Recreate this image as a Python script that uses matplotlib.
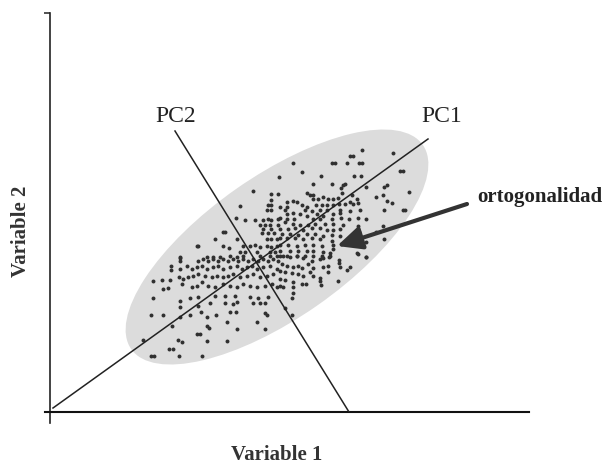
import matplotlib
matplotlib.use("Agg")
import matplotlib.pyplot as plt
from matplotlib.patches import Ellipse
import numpy as np

# datos (unidades arbitrarias, origen en el cruce de ejes)
var1 = [
    203, 221, 228, 221, 218, 221, 190, 217, 221, 186, 195, 205, 213, 218, 221, 228,
    210, 215, 220, 228, 173, 175, 213, 221, 212, 218, 224, 165, 187, 217, 221, 227,
    147, 148, 173, 179, 193, 200, 205, 210, 217, 221, 227, 190, 195, 207, 220, 225,
    130, 157, 163, 170, 180, 187, 193, 210, 220, 227,
    312, 343, 300, 303, 243, 282, 285, 297, 309, 312, 350, 353, 252, 271, 304, 311,
    229, 263, 282, 293, 295, 316, 334, 337, 257, 260, 263, 291, 292, 333, 359, 302,
    307, 326, 263, 268, 273, 278, 283, 288, 337, 342, 237, 243, 247, 252, 257, 266,
    272, 277, 283, 289, 295, 300, 303, 308, 230, 235, 237, 334, 353, 355, 255, 262,
    270, 277, 290, 300, 310, 237, 243, 250, 257, 267, 273, 283, 290, 230, 237, 244,
    263, 270, 282, 291, 299, 308, 316, 235, 243, 250, 258, 265, 275, 283, 293, 308,
    333, 230, 238, 245, 253, 262, 270, 277, 283, 290, 309, 326, 232, 240, 248, 257,
    265, 273, 282, 290, 230, 237, 245, 253, 262, 270, 282, 316, 334, 230, 238, 247,
    255, 263, 272, 283, 230, 240, 248, 257, 263, 273, 283, 280, 307, 316, 230, 237,
    247, 255, 263, 272, 279,
    130, 130, 148, 153, 158, 163, 168, 173, 178, 183, 188, 193, 198, 203, 208, 213,
    218, 223, 228, 121, 121, 130, 137, 142, 147, 152, 157, 163, 168, 173, 180, 187,
    192, 197, 202, 207, 213, 220, 227, 129, 133, 138, 143, 148, 155, 162, 167, 173,
    178, 183, 190, 197, 203, 210, 217, 223, 103, 112, 120, 132, 142, 147, 152, 158,
    165, 173, 180, 187, 193, 200, 207, 215, 222, 227, 113, 118, 103, 130, 140, 148,
    165, 175, 185, 200, 208, 218, 130, 148, 160, 175, 183, 187, 203, 210, 215, 101,
    113, 130, 140, 151, 157, 166, 180, 186, 215, 217, 122, 157, 159, 177, 187, 207,
    215, 147, 150, 93, 128, 132, 157, 177, 119, 123, 101, 104, 129, 152,
    233, 240, 247, 253, 262, 270, 273, 280, 289, 289, 308, 316, 232, 237, 243, 248,
    252, 258, 263, 273, 278, 290, 297, 300, 230, 235, 242, 248, 253, 260, 263, 270,
    278, 230, 235, 243, 252, 256, 270, 271, 288, 230, 233, 243, 243, 242, 235, 242,
]
var2 = [
    221, 218, 218, 212, 207, 207, 206, 202, 202, 194, 192, 192, 192, 193, 192, 193,
    187, 187, 187, 187, 180, 180, 183, 183, 179, 179, 179, 173, 173, 173, 173, 173,
    166, 166, 166, 164, 166, 166, 167, 165, 166, 165, 166, 160, 160, 160, 160, 160,
    155, 155, 155, 155, 156, 155, 156, 156, 156, 156,
    262, 259, 256, 256, 249, 249, 249, 249, 249, 249, 241, 241, 240, 236, 236, 236,
    235, 228, 228, 227, 228, 225, 225, 227, 219, 217, 217, 224, 219, 217, 220, 217,
    213, 215, 213, 213, 215, 213, 213, 214, 211, 209, 210, 211, 210, 207, 205, 207,
    207, 207, 207, 208, 208, 210, 208, 209, 205, 202, 205, 202, 202, 202, 202, 201,
    202, 202, 202, 201, 202, 198, 199, 198, 196, 198, 196, 198, 199, 194, 193, 193,
    193, 193, 193, 194, 193, 194, 193, 190, 188, 187, 187, 188, 188, 188, 187, 186,
    186, 183, 183, 184, 182, 184, 184, 182, 182, 183, 180, 180, 178, 178, 177, 178,
    178, 176, 177, 176, 174, 174, 174, 173, 174, 173, 171, 170, 173, 167, 167, 166,
    167, 167, 166, 167, 161, 161, 161, 161, 161, 160, 163, 159, 159, 155, 156, 156,
    156, 156, 156, 156, 155,
    154, 151, 151, 153, 151, 153, 151, 153, 151, 153, 151, 153, 151, 153, 151, 153,
    151, 153, 151, 146, 142, 143, 146, 143, 145, 146, 143, 145, 146, 143, 145, 146,
    143, 145, 146, 143, 145, 146, 143, 135, 133, 135, 136, 138, 136, 135, 136, 135,
    136, 138, 135, 136, 138, 135, 136, 138, 131, 132, 132, 128, 125, 126, 130, 126,
    125, 128, 126, 125, 128, 126, 125, 126, 128, 125, 123, 124, 114, 111, 114, 115,
    116, 116, 116, 115, 114, 115, 105, 106, 109, 109, 108, 110, 109, 109, 109, 97,
    97, 95, 97, 100, 95, 97, 100, 100, 99, 97, 86, 86, 84, 90, 83, 90,
    83, 78, 78, 72, 72, 70, 71, 71, 63, 63, 56, 56, 56, 56,
    156, 155, 156, 154, 151, 153, 154, 156, 152, 149, 158, 155, 148, 146, 145, 146,
    144, 148, 144, 145, 146, 145, 142, 145, 141, 140, 139, 138, 136, 140, 136, 134,
    140, 133, 132, 130, 128, 128, 131, 127, 131, 126, 125, 125, 119, 114, 104, 97,
]

# componentes principales (extremos de cada recta) y nube
pc1_x = [3, 378]
pc1_y = [4, 273]
pc2_x = [125, 299]
pc2_y = [281, 0]
nube_centro = (227, 165)
nube_ancho, nube_alto, nube_angulo = 356, 142, 35.0

plt.rcParams["font.family"] = ["Liberation Serif", "DejaVu Serif"]

fig = plt.figure(figsize=(6.07, 4.64), dpi=100)
ax = fig.add_axes([50/607, 51/464, 479/607, 399/464])
ax.set_xlim(0, 479)
ax.set_ylim(0, 399)

ax.add_patch(Ellipse(nube_centro, nube_ancho, nube_alto, angle=nube_angulo,
                     facecolor="#dcdcdc", edgecolor="none", zorder=1))
ax.scatter(var1, var2, s=8, color="#303030", linewidths=0, zorder=3)
ax.plot(pc1_x, pc1_y, color="#222222", lw=1.1, zorder=4)
ax.plot(pc2_x, pc2_y, color="#222222", lw=1.1, zorder=4)

ax.text(126, 296, "PC2", fontsize=17, ha="center", va="center", color="#222222")
ax.text(392, 296, "PC1", fontsize=17, ha="center", va="center", color="#222222")
ax.text(427, 216, "ortogonalidad", fontsize=15, fontweight="bold",
        ha="left", va="center", color="#222222")
ax.annotate("", xy=(287, 166), xytext=(417, 208),
            arrowprops=dict(arrowstyle="-|>,head_length=1.5,head_width=0.7",
                            color="#333333", lw=3, shrinkA=0, shrinkB=0), zorder=5)

# ejes
for s in ["top", "right"]:
    ax.spines[s].set_visible(False)
ax.spines["left"].set_bounds(-11, 399)
ax.spines["bottom"].set_bounds(-5, 479)
ax.spines["left"].set_linewidth(1.2)
ax.spines["bottom"].set_linewidth(1.5)
ax.spines["left"].set_color("#222222")
ax.spines["bottom"].set_color("#111111")
ax.set_xticks([])
ax.set_yticks([399])
ax.set_yticklabels([])
ax.tick_params(axis="y", length=4.5, width=1.1, color="#222222", direction="out")

fig.text(277/607, 1 - 455/464, "Variable 1", fontsize=15, fontweight="bold",
         ha="center", va="center", color="#333333")
fig.text(21/607, 1 - 231/464, "Variable 2", fontsize=15, fontweight="bold",
         ha="center", va="center", rotation=90, color="#333333")

fig.savefig("out.png", dpi=100)
